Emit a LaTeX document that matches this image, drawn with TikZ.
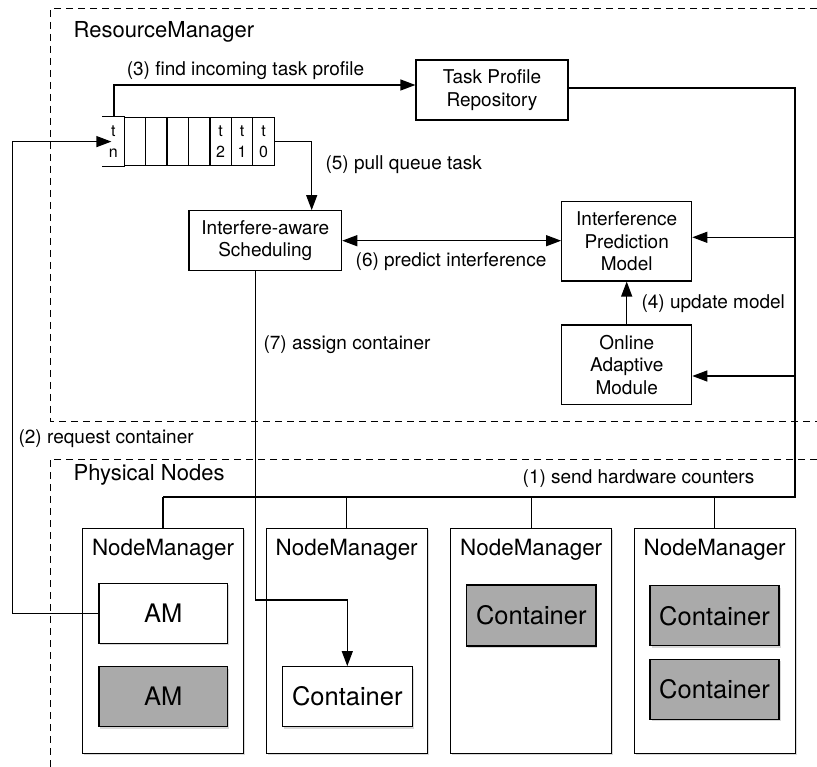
\documentclass[tikz,border=0pt]{standalone}
\usepackage{fontspec}
\setmainfont{TeX Gyre Heros}
\usetikzlibrary{arrows.meta,shadows}

\definecolor{boxgray}{RGB}{170,170,170}

\begin{document}
\begin{tikzpicture}[x=1pt,y=-1pt,
  line width=1.2pt,
  tip/.tip={Triangle[length=15pt,width=11pt]},
  arr/.style={-tip},
  biarr/.style={tip-tip},
  region/.style={dash pattern=on 7pt off 5pt, line width=1pt},
  proc/.style={draw, fill=white, rectangle, align=center, inner sep=0pt,
               font=\fontsize{19}{22.5}\selectfont},
  lbl/.style={font=\fontsize{19}{22}\selectfont, inner sep=0pt},
  head/.style={font=\fontsize{22}{26}\selectfont, inner sep=0pt, anchor=west},
  shade/.style={drop shadow={shadow xshift=1.5pt, shadow yshift=-2pt, opacity=0.3}},
  host/.style={draw, fill=white, inner sep=0pt, minimum width=161pt, minimum height=225pt, shade},
  hosttitle/.style={font=\fontsize{22.4}{26}\selectfont, inner sep=0pt},
  unit/.style={draw, inner sep=0pt, minimum height=60pt, font=\fontsize{25.5}{30}\selectfont, shade},
  busy/.style={unit, fill=boxgray},
  idle/.style={unit, fill=white},
  qcell/.style={inner sep=0pt, minimum width=21.45pt, minimum height=48.3pt, align=center,
                font=\fontsize{16}{21}\selectfont},
]
\useasboundingbox (0,0) rectangle (817,767);

% dashed regions
\draw[region] (817,9) -- (50,9) -- (50,421) -- (817,421);
\draw[region] (817,459) -- (50,459) -- (50,767);
\node[head] (rmtitle) at (73,32) {ResourceManager};
\node[head] (pntitle) at (73,475) {Physical Nodes};

% task queue
\node[qcell] (qn) at (113.4,141.6) {t\\n};
\node[qcell, draw] (qe1) at (134.85,141.6) {};
\node[qcell, draw] (qe2) at (156.3,141.6) {};
\node[qcell, draw] (qe3) at (177.75,141.6) {};
\node[qcell, draw] (qe4) at (199.2,141.6) {};
\node[qcell, draw] (q2) at (220.65,141.6) {t\\2};
\node[qcell, draw] (q1) at (242.1,141.6) {t\\1};
\node[qcell, draw] (q0) at (263.55,141.6) {t\\0};
\draw (qn.north west) -- (qn.north east);
\draw (qn.south west) -- (qn.south east);

% resource manager modules
\node[proc, minimum width=152pt, minimum height=60pt] (tpr) at (492,90) {Task Profile\\Repository};
\node[proc, minimum width=152.7pt, minimum height=60pt] (ias) at (265.3,240.7) {Interfere-aware\\Scheduling};
\node[proc, minimum width=130pt, minimum height=79.3pt] (ipm) at (626.7,241.3) {Interference\\Prediction\\Model};
\node[proc, minimum width=130pt, minimum height=79.3pt] (oam) at (626.7,364.7) {Online\\Adaptive\\Module};

% physical nodes
\node[host] (nm1) at (163,640.8) {};
\node[host] (nm2) at (346.7,640.8) {};
\node[host] (nm3) at (531.2,640.8) {};
\node[host] (nm4) at (714.7,640.8) {};
\foreach \n in {nm1,nm2,nm3,nm4}
  \node[hosttitle] (\n title) at ([yshift=-22.4pt]\n.north) {NodeManager};

\node[idle, minimum width=128.7pt] (am1) at (163.3,613.3) {AM};
\node[busy, minimum width=128.7pt] (am2) at (163.3,696.7) {AM};
\node[idle, minimum width=130pt] (c2) at (347.3,696.7) {Container};
\node[busy, minimum width=129.3pt, minimum height=61pt] (c3) at (531.3,615.5) {Container};
\node[busy, minimum width=129pt] (c4a) at (714.5,615.8) {Container};
\node[busy, minimum width=129pt] (c4b) at (714.5,689.3) {Container};

% connector bends
\coordinate (busR) at (795,497);
\coordinate (busL) at (163,497);
\coordinate (k7) at (255.7,600);
\coordinate (k2) at (12.3,613.3);

% (1) hardware counters bus
\draw ([yshift=2pt]tpr.east) -| (busR) -- (busL);
\foreach \n in {nm1,nm2,nm3,nm4}
  \draw (\n.north) -- (\n.north |- busR);
\draw[arr] ([yshift=4pt]ipm.east -| busR) -- ([yshift=4pt]ipm.east);
\draw[arr] ([yshift=-11.3pt]oam.east -| busR) -- ([yshift=-11.3pt]oam.east);
\node[lbl] (l1) at (638.5,479) {(1) send hardware counters};

% (2) request container
\draw[arr] (am1.west) -- (k2) |- ([xshift=-2pt]qn.center);
\node[lbl, anchor=west] (l2) at (18,439) {(2) request container};

% (3) find incoming task profile
\draw[arr] ([xshift=0.6pt]qn.north) |- ([yshift=5pt]tpr.west);
\node[lbl] (l3) at (245.5,71) {(3) find incoming task profile};

% (4) update model
\draw[arr] (oam.north) -- (ipm.south);
\node[lbl, anchor=west] (l4) at (641,304) {(4) update model};

% (5) pull queue task
\draw[arr] (q0.east) -| ([xshift=46.4pt]ias.north);
\node[lbl, anchor=west] (l5) at (325,165) {(5) pull queue task};

% (6) predict interference
\draw[biarr] (ias.east) -- (ias.east -| ipm.west);
\node[lbl] (l6) at (451,262) {(6) predict interference};

% (7) assign container
\draw[arr] ([xshift=-9.6pt]ias.south) -- (k7) -| (c2.north);
\node[lbl, anchor=west] (l7) at (263,345) {(7) assign container};
\end{tikzpicture}
\end{document}
